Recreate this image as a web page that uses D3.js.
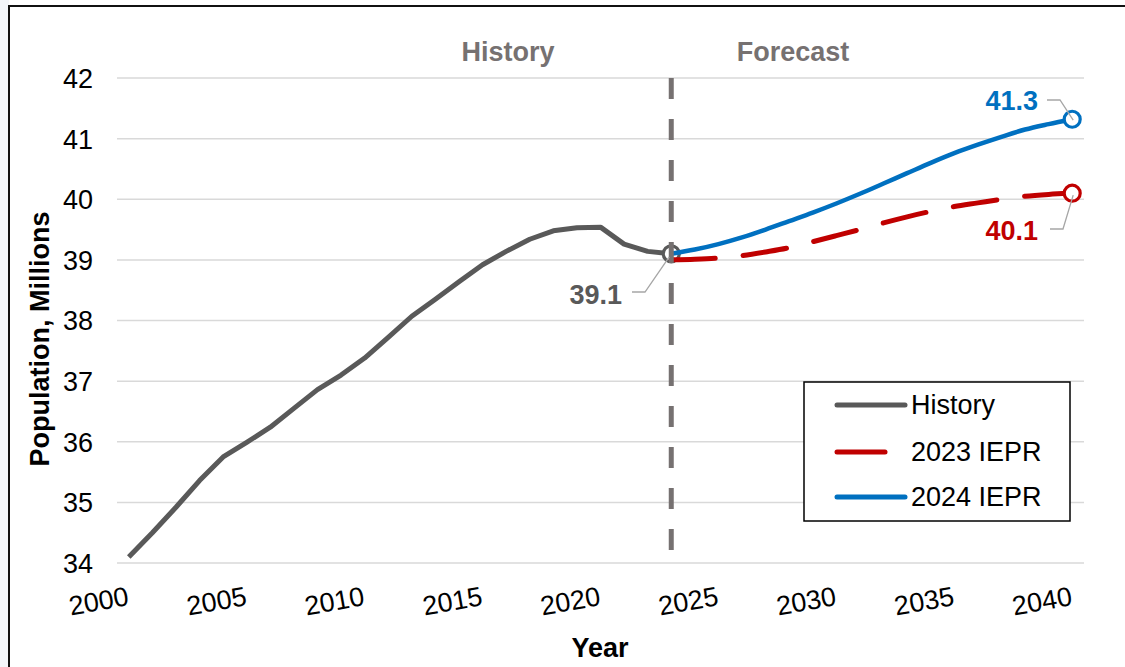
<!DOCTYPE html>
<html><head><meta charset="utf-8">
<script src="https://cdn.jsdelivr.net/npm/d3@7"></script>
<style>
html,body{margin:0;padding:0;background:#fff;}
svg{display:block;font-family:"Liberation Sans",Arial,sans-serif;}
</style></head>
<body>
<svg id="c" width="1125" height="667"></svg>
<script>
const historyYears = [2000,2001,2002,2003,2004,2005,2006,2007,2008,2009,2010,2011,2012,2013,2014,2015,2016,2017,2018,2019,2020,2021,2022,2023];
const historyValues = [34.1,34.5,34.92,35.36,35.75,35.99,36.24,36.55,36.86,37.1,37.38,37.72,38.07,38.35,38.64,38.92,39.14,39.34,39.48,39.53,39.54,39.26,39.14,39.1];
const forecastYears = [2023,2024,2025,2026,2027,2028,2029,2030,2031,2032,2033,2034,2035,2036,2037,2038,2039,2040];
const iepr2023 = [39.0,39.01,39.03,39.07,39.13,39.2,39.3,39.4,39.5,39.61,39.71,39.8,39.88,39.94,40.0,40.05,40.08,40.1];
const iepr2024 = [39.1,39.17,39.26,39.37,39.5,39.64,39.78,39.93,40.09,40.26,40.43,40.6,40.76,40.9,41.03,41.15,41.24,41.32];
const yTicks = [34,35,36,37,38,39,40,41,42];
const xTicks = [2000,2005,2010,2015,2020,2025,2030,2035,2040];
const seriesNames = ["History","2023 IEPR","2024 IEPR"];
const sectionLabels = ["History","Forecast"];

const FS = 27;
const svg = d3.select("#c");
const C = {hist:"#595959", red:"#c00000", blue:"#0070c0", grid:"#d9d9d9", div:"#767171", lead:"#a6a6a6"};

// background strip left of frame
svg.append("rect").attr("x",0).attr("y",0).attr("width",9).attr("height",667).attr("fill","#f3f6fa");
svg.append("line").attr("x1",9).attr("x2",9).attr("y1",5).attr("y2",667).attr("stroke","#111").attr("stroke-width",2);
svg.append("line").attr("x1",9).attr("x2",1125).attr("y1",6).attr("y2",6).attr("stroke","#111").attr("stroke-width",2);

const x = d3.scaleLinear().domain([1999.5,2040.5]).range([117,1084]);
const y = d3.scaleLinear().domain([34,42]).range([563,78]);

// gridlines
svg.append("g").selectAll("line").data(yTicks).join("line")
  .attr("x1",117).attr("x2",1084).attr("y1",d=>y(d)).attr("y2",d=>y(d))
  .attr("stroke",C.grid).attr("stroke-width",1.5);

// y axis labels
const yAxis = svg.append("g").attr("transform","translate(93,0)")
  .call(d3.axisLeft(y).tickValues(yTicks).tickSize(0).tickPadding(0).tickFormat(d3.format("d")));
yAxis.select(".domain").remove();
yAxis.selectAll("text").attr("font-size",FS).attr("fill","#000").attr("font-family","'Liberation Sans', Arial, sans-serif").attr("dy","0.35em");

// x axis labels
const xAxis = svg.append("g")
  .call(d3.axisBottom(x).tickValues(xTicks).tickSize(0).tickFormat(d3.format("d")));
xAxis.select(".domain").remove();
xAxis.selectAll(".tick").attr("transform",null);
xAxis.selectAll(".tick text")
  .attr("font-size",FS).attr("fill","#000").attr("font-family","'Liberation Sans', Arial, sans-serif")
  .attr("text-anchor","end").attr("y",null).attr("dy",null)
  .attr("transform",d=>`translate(${x(d)+1},605) rotate(-10)`);

// axis titles
svg.append("text").attr("x",600).attr("y",657).attr("text-anchor","middle")
  .attr("font-size",FS).attr("font-weight","bold").text("Year");
svg.append("text").attr("transform","translate(49,339) rotate(-90)").attr("text-anchor","middle")
  .attr("font-size",FS).attr("font-weight","bold").text("Population, Millions");

// section labels
svg.append("text").attr("x",508).attr("y",61).attr("text-anchor","middle")
  .attr("font-size",FS).attr("font-weight","bold").attr("fill",C.div).text(sectionLabels[0]);
svg.append("text").attr("x",793).attr("y",61).attr("text-anchor","middle")
  .attr("font-size",FS).attr("font-weight","bold").attr("fill",C.div).text(sectionLabels[1]);

const histData = historyYears.map((yr,i)=>({yr,v:historyValues[i]}));
const d23 = forecastYears.map((yr,i)=>({yr,v:iepr2023[i]}));
const d24 = forecastYears.map((yr,i)=>({yr,v:iepr2024[i]}));

const lineStraight = d3.line().x(d=>x(d.yr)).y(d=>y(d.v));
const lineSmooth = d3.line().x(d=>x(d.yr)).y(d=>y(d.v)).curve(d3.curveMonotoneX);

svg.append("path").datum(histData).attr("d",lineStraight).attr("fill","none")
  .attr("stroke",C.hist).attr("stroke-width",5).attr("stroke-linejoin","round");

// history end marker
const lastH = histData[histData.length-1];
svg.append("circle").attr("cx",x(lastH.yr)).attr("cy",y(lastH.v)).attr("r",8)
  .attr("fill","#fff").attr("stroke",C.hist).attr("stroke-width",3.2);

svg.append("path").datum(d23).attr("d",lineSmooth).attr("fill","none")
  .attr("stroke",C.red).attr("stroke-width",5).attr("stroke-dasharray","44,28").attr("stroke-linecap","round");
svg.append("path").datum(d24).attr("d",lineSmooth).attr("fill","none")
  .attr("stroke",C.blue).attr("stroke-width",4.5);

// divider
svg.append("line").attr("x1",x(2023)).attr("x2",x(2023)).attr("y1",y(42)).attr("y2",558)
  .attr("stroke",C.div).attr("stroke-width",5).attr("stroke-dasharray","21,20");

// end markers
const e23 = d23[d23.length-1], e24 = d24[d24.length-1];
svg.append("circle").attr("cx",x(e23.yr)).attr("cy",y(e23.v)).attr("r",8)
  .attr("fill","#fff").attr("stroke",C.red).attr("stroke-width",3.2);
svg.append("circle").attr("cx",x(e24.yr)).attr("cy",y(e24.v)).attr("r",8)
  .attr("fill","#fff").attr("stroke",C.blue).attr("stroke-width",3.2);

// data labels with leaders
function leader(pts){
  svg.append("path").attr("d",d3.line()(pts)).attr("fill","none").attr("stroke",C.lead).attr("stroke-width",1.3);
}
const hx = x(lastH.yr), hy = y(lastH.v);
leader([[632,292],[645,292],[hx-2,hy+3]]);
svg.append("text").attr("x",622).attr("y",304).attr("text-anchor","end")
  .attr("font-size",FS).attr("font-weight","bold").attr("fill",C.hist).text(d3.format(".1f")(lastH.v));

const bx = x(e24.yr), by = y(e24.v);
leader([[1047,100],[1060,100],[bx+1,by+1]]);
svg.append("text").attr("x",1038).attr("y",110).attr("text-anchor","end")
  .attr("font-size",FS).attr("font-weight","bold").attr("fill",C.blue).text(d3.format(".1f")(e24.v));

const rx = x(e23.yr), ry = y(e23.v);
leader([[1050,229],[1063,229],[rx+1,ry+2]]);
svg.append("text").attr("x",1038).attr("y",240).attr("text-anchor","end")
  .attr("font-size",FS).attr("font-weight","bold").attr("fill",C.red).text(d3.format(".1f")(e23.v));

// legend
const lg = svg.append("g");
lg.append("rect").attr("x",804).attr("y",382).attr("width",266).attr("height",139)
  .attr("fill","#fff").attr("stroke","#000").attr("stroke-width",1.5);
const legendItems = [
  {name:seriesNames[0], color:C.hist, len:70, y:405},
  {name:seriesNames[1], color:C.red, len:50, y:452},
  {name:seriesNames[2], color:C.blue, len:70, y:497}
];
legendItems.forEach(it=>{
  lg.append("line").attr("x1",837).attr("x2",837+it.len-2).attr("y1",it.y).attr("y2",it.y)
    .attr("stroke",it.color).attr("stroke-width",5).attr("stroke-linecap","round");
  lg.append("text").attr("x",911).attr("y",it.y).attr("dy","0.35em")
    .attr("font-size",FS).attr("fill","#000").text(it.name);
});
</script>
</body></html>
